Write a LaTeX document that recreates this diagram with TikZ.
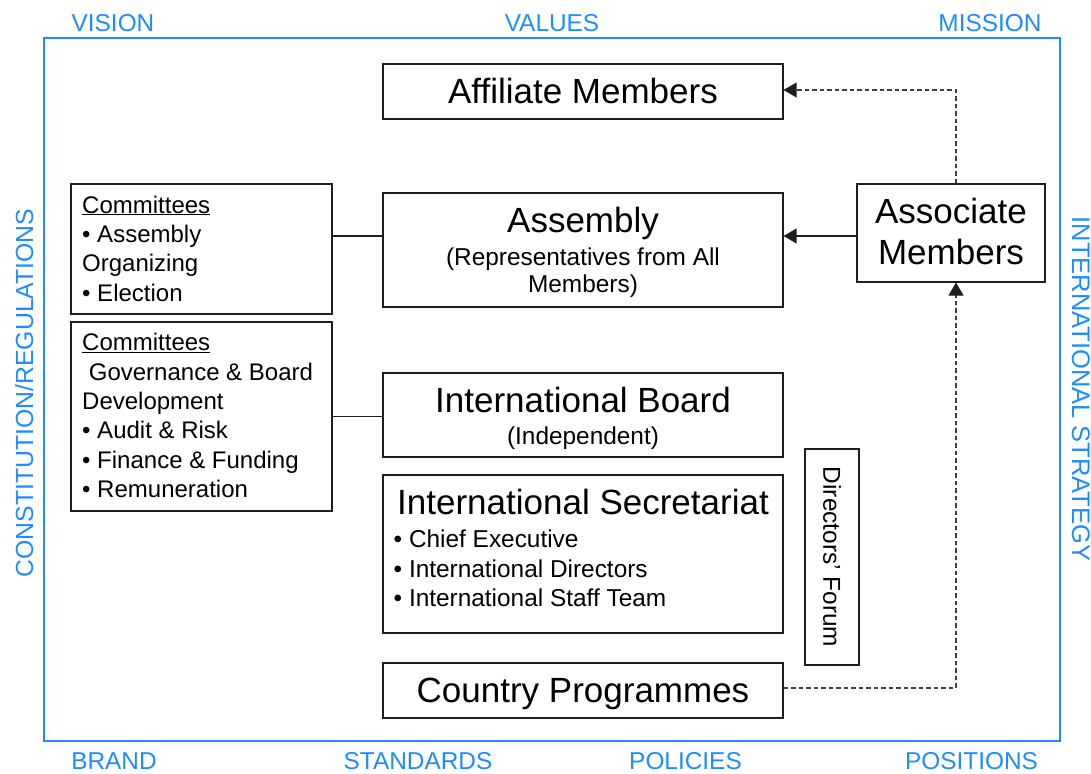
\documentclass[tikz,border=0pt]{standalone}
\usepackage{fontspec}
\setmainfont{Liberation Sans}
\usetikzlibrary{arrows.meta}

% font size helper: size and leading in pt
\newcommand{\fsz}[1]{\fontsize{#1}{#1}\selectfont}

\definecolor{frameblue}{RGB}{30,140,255}
\definecolor{boxline}{RGB}{30,30,30}

\tikzset{
  box/.style={draw=boxline, line width=1.2pt, rectangle, inner sep=0pt, fill=white},
  title/.style={anchor=base, inner sep=0pt, font=\fsz{35}},
  sub/.style={anchor=base, inner sep=0pt, font=\fsz{24.4}},
  item/.style={anchor=base west, inner sep=0pt, font=\fsz{24.4}},
  citem/.style={anchor=base west, inner sep=0pt, font=\fsz{24}},
  frametext/.style={anchor=base, inner sep=0pt, text=frameblue, font=\fsz{24.4}},
  link/.style={draw=boxline, line width=1.1pt},
  tip/.style={-{Triangle[length=13pt,width=15pt,color=boxline]}},
  arr/.style={link, tip},
  dsh/.style={draw=black!75, line width=1.1pt, dash pattern=on 4.5pt off 3pt},
}

\begin{document}
\begin{tikzpicture}[x=1pt, y=-1pt]
\useasboundingbox (0,0) rectangle (1091,773);

% outer frame
\draw[frameblue, line width=1.4pt] (44,38) rectangle (1060,741);

% frame labels
\node[frametext] (vision)    at (113,31.7) {VISION};
\node[frametext] (values)    at (552,31.7) {VALUES};
\node[frametext] (mission)   at (990,31.7) {MISSION};
\node[frametext] (brand)     at (114,769) {BRAND};
\node[frametext] (standards) at (418,769) {STANDARDS};
\node[frametext] (policies)  at (685.5,769) {POLICIES};
\node[frametext] (positions) at (971.5,769) {POSITIONS};
\node[frametext, font=\fsz{24.8}, rotate=90]  (constitution) at (33,393) {CONSTITUTION/REGULATIONS};
\node[frametext, font=\fsz{25.5}, rotate=-90] (strategy)     at (1072,389) {INTERNATIONAL STRATEGY};

% central column of boxes
\node[box, minimum width=400pt, minimum height=55pt]  (aff) at (583,91.5) {};
\node[box, minimum width=400pt, minimum height=114pt] (asm) at (583,250) {};
\node[box, minimum width=400pt, minimum height=84pt]  (brd) at (583,415) {};
\node[box, minimum width=400pt, minimum height=158pt] (sec) at (583,554) {};
\node[box, minimum width=400pt, minimum height=55pt]  (cty) at (583,690.5) {};

% right hand boxes
\node[box, minimum width=188pt, minimum height=98pt]  (asc) at (951,233) {};
\node[box, minimum width=54pt, minimum height=216pt]  (dir) at (832,557) {};

% committee boxes
\node[box, minimum width=261pt, minimum height=130pt] (com1) at (201.5,249) {};
\node[box, minimum width=261pt, minimum height=189pt] (com2) at (201.5,416.5) {};

% texts of the central column
\node[title] (affT) at (583,103.5) {Affiliate Members};
\node[title] (asmT) at (583,232.7) {Assembly};
\node[sub]   (asmS1) at (583,265) {(Representatives from All};
\node[sub]   (asmS2) at (583,292.5) {Members)};
\node[title] (brdT) at (583,412) {International Board};
\node[sub]   (brdS) at (583,444) {(Independent)};
\node[title] (secT) at (583,514) {International Secretariat};
\node[item]  (secA) at (393.5,547) {• Chief Executive};
\node[item]  (secB) at (393.5,577) {• International Directors};
\node[item]  (secC) at (393.5,606) {• International Staff Team};
\node[title] (ctyT) at (583,702) {Country Programmes};

% texts of the right hand boxes
\node[title] (ascA) at (951,223) {Associate};
\node[title] (ascB) at (951,264) {Members};
\node[sub, anchor=center, rotate=-90] (dirT) at (dir.center) {Directors’ Forum};

% committee texts
\node[citem] (c1a) at (82,213)   {\underline{Committees}};
\node[citem] (c1b) at (82,242.3) {• Assembly};
\node[citem] (c1c) at (82,271.6) {Organizing};
\node[citem] (c1d) at (82,301)   {• Election};

\node[citem] (c2a) at (82,350.7) {\underline{Committees}};
\node[citem] (c2b) at (82,380)   {\ Governance \& Board};
\node[citem] (c2c) at (82,409.3) {Development};
\node[citem] (c2d) at (82,438.6) {• Audit \& Risk};
\node[citem] (c2e) at (82,468)   {• Finance \& Funding};
\node[citem] (c2f) at (82,497.3) {• Remuneration};

% connector rows and bends
\coordinate (asmrow) at (583,236);
\coordinate (bendtop) at (956,90);
\coordinate (bendbot) at (956,688);

% connectors
\draw[link] (com1.east |- asmrow) -- (asm.west |- asmrow);
\draw[link] (com2.east) -- (com2.east -| brd.west);
\draw[arr]  (asc.west |- asmrow) -- (asm.east |- asmrow);
\draw[dsh, tip] (asc.north -| bendtop) -- (bendtop) -- (aff.east |- bendtop);
\draw[dsh, tip] (cty.east |- bendbot) -- (bendbot) -- (asc.south -| bendbot);
\end{tikzpicture}
\end{document}
